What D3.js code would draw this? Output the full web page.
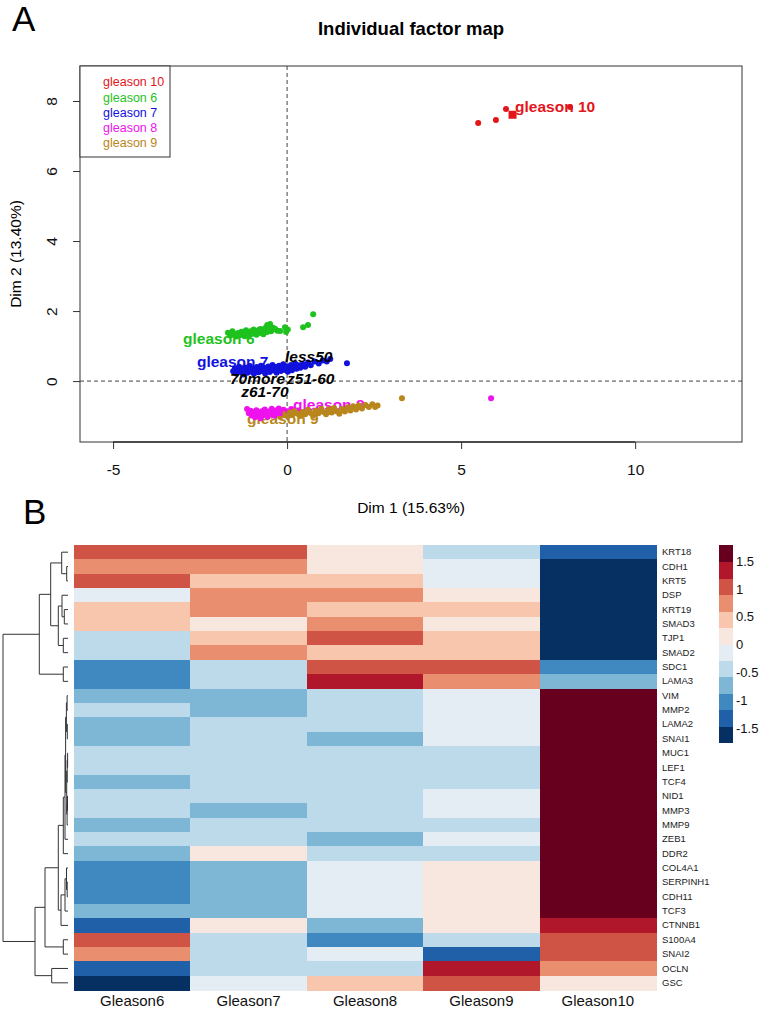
<!DOCTYPE html>
<html>
<head>
<meta charset="utf-8">
<script src="https://cdn.jsdelivr.net/npm/d3@7"></script>
<style>
  body { margin: 0; background: #fff; }
  svg text { font-family: "Liberation Sans", Arial, Helvetica, sans-serif; }
</style>
</head>
<body>
<div id="chart"></div>
<script>
// ---------- Panel A : individual factor map ----------
var groups = ["gleason 10", "gleason 6", "gleason 7", "gleason 8", "gleason 9"]
var groupColors = ["#e3151b", "#1ec21e", "#1212dd", "#ee12ee", "#b8861b"]

var ptsG10 = [[5.49, 7.37], [6.00, 7.46], [6.29, 7.77], [8.13, 7.83]]
var ptsG6 = [[-1.70, 1.38], [-1.63, 1.30], [-1.57, 1.42], [-1.51, 1.33], [-1.46, 1.27], [-1.41, 1.37],
  [-1.36, 1.31], [-1.31, 1.41], [-1.27, 1.34], [-1.22, 1.28], [-1.18, 1.45], [-1.13, 1.36],
  [-1.09, 1.30], [-1.05, 1.42], [-1.01, 1.35], [-0.96, 1.47], [-0.92, 1.39], [-0.88, 1.32],
  [-0.85, 1.44], [-0.80, 1.37], [-0.76, 1.49], [-0.72, 1.41], [-0.68, 1.34], [-0.65, 1.46],
  [-0.61, 1.53], [-0.57, 1.40], [-0.57, 1.60], [-0.52, 1.48], [-0.49, 1.63], [-0.46, 1.42],
  [-0.40, 1.52], [-0.34, 1.49], [-0.28, 1.44], [-0.20, 1.43], [-0.06, 1.54], [-0.03, 1.40],
  [0.02, 1.47], [0.46, 1.54], [0.60, 1.60], [0.75, 1.91]]
var ptsG7 = [[-1.55, 0.28], [-1.50, 0.37], [-1.46, 0.22], [-1.43, 0.31], [-1.38, 0.41], [-1.34, 0.26],
  [-1.31, 0.34], [-1.26, 0.19], [-1.22, 0.29], [-1.19, 0.39], [-1.14, 0.24], [-1.10, 0.33],
  [-1.07, 0.43], [-1.02, 0.27], [-0.98, 0.36], [-0.95, 0.21], [-0.90, 0.30], [-0.87, 0.40],
  [-0.82, 0.25], [-0.78, 0.34], [-0.75, 0.44], [-0.70, 0.28], [-0.66, 0.38], [-0.63, 0.22],
  [-0.58, 0.32], [-0.54, 0.42], [-0.50, 0.26], [-0.47, 0.36], [-0.42, 0.46], [-0.38, 0.30],
  [-0.35, 0.40], [-0.30, 0.24], [-0.26, 0.34], [-0.23, 0.44], [-0.18, 0.29], [-0.14, 0.38],
  [-0.11, 0.48], [-0.06, 0.32], [-0.02, 0.42], [0.02, 0.27], [0.06, 0.37], [0.11, 0.46],
  [0.14, 0.31], [0.19, 0.41], [0.23, 0.50], [0.27, 0.35], [0.33, 0.45], [0.38, 0.38],
  [0.45, 0.48], [0.52, 0.41], [0.60, 0.53], [0.68, 0.45], [0.79, 0.56], [0.91, 0.50],
  [1.02, 0.59], [1.14, 0.56], [1.24, 0.63], [1.72, 0.51]]
var ptsG8 = [[-1.15, -0.80], [-1.10, -0.92], [-1.05, -0.85], [-1.01, -0.98], [-0.96, -0.88],
  [-0.92, -1.03], [-0.88, -0.83], [-0.84, -0.95], [-0.80, -0.90], [-0.76, -1.06], [-0.72, -0.86],
  [-0.68, -0.97], [-0.64, -0.81], [-0.60, -0.93], [-0.56, -1.02], [-0.52, -0.87], [-0.48, -0.95],
  [-0.44, -0.79], [-0.40, -0.90], [-0.36, -0.99], [-0.32, -0.84], [-0.28, -0.93], [-0.24, -0.78],
  [-0.20, -0.88], [-0.15, -0.96], [-0.10, -0.82], [-0.05, -0.91], [0.00, -0.86], [0.06, -0.94],
  [0.12, -0.80], [0.20, -0.89], [0.30, -0.84], [1.29, -0.83], [5.86, -0.49]]
var ptsG9 = [[-0.20, -1.02], [-0.10, -0.95], [0.00, -1.00], [0.08, -0.90], [0.15, -0.97],
  [0.22, -0.86], [0.30, -0.93], [0.38, -1.00], [0.45, -0.88], [0.52, -0.95], [0.60, -0.82],
  [0.68, -0.91], [0.75, -0.98], [0.82, -0.85], [0.90, -0.92], [0.98, -0.79], [1.05, -0.88],
  [1.12, -0.95], [1.20, -0.83], [1.28, -0.90], [1.35, -0.77], [1.42, -0.86], [1.50, -0.93],
  [1.58, -0.80], [1.66, -0.87], [1.74, -0.75], [1.82, -0.84], [1.90, -0.72], [1.98, -0.81],
  [2.06, -0.70], [2.15, -0.78], [2.25, -0.68], [2.35, -0.74], [2.45, -0.66], [2.53, -0.74],
  [2.60, -0.70], [3.30, -0.49]]
var groupPoints = [ptsG10, ptsG6, ptsG7, ptsG8, ptsG9]

// where the category labels sit (left end of text, vertical centre)
var groupLabelPos = [[6.55, 7.83], [-2.99, 1.20], [-2.59, 0.57], [0.17, -0.66], [-1.15, -1.06]]
var supLabels = ["less50", "70more", "z51-60", "z61-70"]
var supLabelPos = [[-0.06, 0.69], [-1.64, 0.06], [0.0, 0.06], [-1.32, -0.31]]

var xTicksA = [-5, 0, 5, 10]
var yTicksA = [0, 2, 4, 6, 8]

// ---------- Panel B : heatmap ----------
var samples = ["Gleason6", "Gleason7", "Gleason8", "Gleason9", "Gleason10"]
var genes = ["KRT18", "CDH1", "KRT5", "DSP", "KRT19", "SMAD3", "TJP1", "SMAD2", "SDC1", "LAMA3",
  "VIM", "MMP2", "LAMA2", "SNAI1", "MUC1", "LEF1", "TCF4", "NID1", "MMP3", "MMP9", "ZEB1", "DDR2",
  "COL4A1", "SERPINH1", "CDH11", "TCF3", "CTNNB1", "S100A4", "SNAI2", "OCLN", "GSC"]

var valG6 = [0.98, 0.72, 0.95, -0.02, 0.35, 0.45, -0.35, -0.35, -0.95, -1.00,
  -0.60, -0.50, -0.65, -0.60, -0.45, -0.46, -0.60, -0.50, -0.48, -0.58, -0.45, -0.72,
  -0.90, -0.92, -0.88, -0.80, -1.30, 1.00, 0.70, -1.30, -1.70]
var valG7 = [0.95, 0.70, 0.40, 0.75, 0.65, 0.20, 0.40, 0.72, -0.30, -0.45,
  -0.60, -0.65, -0.50, -0.45, -0.44, -0.43, -0.40, -0.48, -0.60, -0.42, -0.45, 0.05,
  -0.60, -0.62, -0.64, -0.75, 0.15, -0.45, -0.40, -0.40, -0.15]
var valG8 = [0.05, 0.18, 0.38, 0.70, 0.38, 0.80, 1.00, 0.55, 1.10, 1.45,
  -0.40, -0.45, -0.45, -0.62, -0.45, -0.45, -0.38, -0.50, -0.45, -0.38, -0.60, -0.55,
  -0.25, -0.22, -0.24, -0.20, -0.60, -1.00, -0.10, -0.45, 0.45]
var valG9 = [-0.50, -0.05, -0.10, 0.20, 0.36, 0.25, 0.55, 0.58, 1.10, 0.70,
  -0.20, -0.15, -0.15, -0.10, -0.44, -0.44, -0.40, -0.25, -0.20, -0.35, -0.22, -0.50,
  0.05, 0.06, 0.06, 0.05, 0.30, -0.50, -1.30, 1.40, 1.10]
var valG10 = [-1.40, -1.55, -1.63, -1.63, -1.74, -1.70, -1.60, -1.50, -0.95, -0.70,
  1.75, 1.75, 1.75, 1.77, 1.78, 1.78, 1.78, 1.73, 1.73, 1.73, 1.72, 1.72,
  1.70, 1.70, 1.70, 1.70, 1.45, 0.95, 1.10, 0.75, 0.20]
var sampleValues = [valG6, valG7, valG8, valG9, valG10]

// low -> high
var heatColors = ["#053061", "#1f60a8", "#3f89c0", "#7eb6d6", "#bcdaea", "#e3edf3",
  "#f8e7df", "#f7c6ad", "#ea8e70", "#d05446", "#b0172a", "#67001f"]
var heatRange = [-1.75, 1.79]
var legendTicks = [1.5, 1, 0.5, 0, -0.5, -1, -1.5]

// row clustering: [left, right, height]; numbers point at an earlier merge
var merges = [
  ["MUC1", "LEF1", 0.4], ["NID1", "MMP3", 0.5], ["LAMA2", "SNAI1", 0.7], [0, "TCF4", 0.8],
  ["SERPINH1", "CDH11", 0.8], ["VIM", "MMP2", 0.9], [1, "MMP9", 0.9], [3, 6, 1.3],
  ["CDH1", "KRT5", 1.3], ["COL4A1", 4, 1.5], [5, 2, 1.6], [10, 7, 2.4],
  [11, "ZEB1", 3.0], [9, "TCF3", 3.0], ["KRT19", "SMAD3", 3.7], ["TJP1", "SMAD2", 4.7],
  ["SDC1", "LAMA3", 4.7], [12, "DDR2", 4.7], ["S100A4", "SNAI2", 4.7], ["DSP", 14, 6.0],
  ["KRT18", 8, 6.3], [13, "CTNNB1", 7.0], [19, 15, 9.7], [17, 21, 9.7],
  [20, 22, 17.3], ["OCLN", "GSC", 16.3], [23, 18, 23], [24, 16, 28.7],
  [26, 25, 33], [27, 28, 65]]

// plain hyphen minus, like R prints
function plain(d) { return String(d) }

var svg = d3.select("#chart").append("svg")
  .attr("width", 762)
  .attr("height", 1014)

// panel letters
svg.append("text").attr("x", 12).attr("y", 31).attr("font-size", 35).text("A")
svg.append("text").attr("x", 23).attr("y", 524).attr("font-size", 35).text("B")

// ======== Panel A ========
var xA = d3.scaleLinear().domain([-5.95, 13.07]).range([80, 742])
var yA = d3.scaleLinear().domain([-1.74, 9.0]).range([442, 66])

svg.append("text")
  .attr("x", 411).attr("y", 35)
  .attr("text-anchor", "middle")
  .attr("font-size", 18.5).attr("font-weight", "bold")
  .text("Individual factor map")

svg.append("line")
  .attr("x1", xA(0)).attr("x2", xA(0)).attr("y1", 66).attr("y2", 442)
  .attr("stroke", "#444").attr("stroke-dasharray", "4,3")
svg.append("line")
  .attr("x1", 80).attr("x2", 742).attr("y1", yA(0)).attr("y2", yA(0))
  .attr("stroke", "#444").attr("stroke-dasharray", "4,3")

// x axis
var xAxis = d3.axisBottom(xA).tickValues(xTicksA).tickSize(7).tickPadding(15).tickFormat(plain)
var gx = svg.append("g").attr("transform", "translate(0,442)").call(xAxis)
gx.select(".domain").remove()
gx.selectAll("line").attr("stroke", "#333")
gx.selectAll("text").attr("font-size", 15.5).attr("fill", "#111")
  .attr("font-family", "Liberation Sans, Arial, sans-serif")
gx.append("line")
  .attr("x1", xA(xTicksA[0])).attr("x2", xA(xTicksA[xTicksA.length - 1]))
  .attr("stroke", "#333").attr("stroke-width", 1.3)

// y axis, labels turned like R does
var yAxis = d3.axisLeft(yA).tickValues(yTicksA).tickSize(7).tickFormat(plain)
var gy = svg.append("g").attr("transform", "translate(80,0)").call(yAxis)
gy.select(".domain").remove()
gy.selectAll("line").attr("stroke", "#333")
gy.selectAll("text")
  .attr("x", 0).attr("y", -23).attr("dy", 0)
  .attr("text-anchor", "middle")
  .attr("transform", "rotate(-90)")
  .attr("font-size", 15.5).attr("fill", "#111")
  .attr("font-family", "Liberation Sans, Arial, sans-serif")

svg.append("rect")
  .attr("x", 80).attr("y", 66).attr("width", 662).attr("height", 376)
  .attr("fill", "none").attr("stroke", "#333")

svg.append("text")
  .attr("x", 411).attr("y", 513)
  .attr("text-anchor", "middle").attr("font-size", 15.5)
  .text("Dim 1 (15.63%)")
svg.append("text")
  .attr("transform", "translate(21,254) rotate(-90)")
  .attr("text-anchor", "middle").attr("font-size", 15.5)
  .text("Dim 2 (13.40%)")

// category labels go under the points
groups.forEach(function (g, i) {
  svg.append("text")
    .attr("x", xA(groupLabelPos[i][0])).attr("y", yA(groupLabelPos[i][1]))
    .attr("dy", "0.35em")
    .attr("font-size", 15.5).attr("font-weight", "bold")
    .attr("fill", groupColors[i])
    .text(g)
})

groupPoints.forEach(function (pts, i) {
  svg.append("g").selectAll("circle")
    .data(pts)
    .enter()
    .append("circle")
    .attr("cx", function (d) { return xA(d[0]) })
    .attr("cy", function (d) { return yA(d[1]) })
    .attr("r", 3)
    .attr("fill", groupColors[i])
})

// centroids
groupPoints.forEach(function (pts, i) {
  var cx = d3.mean(pts, function (d) { return d[0] })
  var cy = d3.mean(pts, function (d) { return d[1] })
  svg.append("rect")
    .attr("x", xA(cx) - 4).attr("y", yA(cy) - 4)
    .attr("width", 8).attr("height", 8)
    .attr("fill", groupColors[i])
})

supLabels.forEach(function (s, i) {
  svg.append("text")
    .attr("x", xA(supLabelPos[i][0])).attr("y", yA(supLabelPos[i][1]))
    .attr("dy", "0.35em")
    .attr("font-size", 15.5).attr("font-weight", "bold").attr("font-style", "italic")
    .attr("fill", "#000")
    .text(s)
})

// legend box
svg.append("rect")
  .attr("x", 80).attr("y", 66).attr("width", 90).attr("height", 91)
  .attr("fill", "#fff").attr("stroke", "#333")
groups.forEach(function (g, i) {
  svg.append("text")
    .attr("x", 103).attr("y", 82 + i * 15.2)
    .attr("dy", "0.35em")
    .attr("font-size", 12.5)
    .attr("fill", groupColors[i])
    .text(g)
})

// ======== Panel B ========
var xB = d3.scaleBand().domain(samples).range([74, 656])
var yB = d3.scaleBand().domain(genes).range([545, 990])
var color = d3.scaleQuantize().domain(heatRange).range(heatColors)

var cells = []
genes.forEach(function (g, r) {
  samples.forEach(function (s, c) {
    cells.push({ gene: g, sample: s, value: sampleValues[c][r] })
  })
})

svg.append("g").attr("shape-rendering", "crispEdges").selectAll("rect")
  .data(cells)
  .enter()
  .append("rect")
  .attr("x", function (d) { return xB(d.sample) })
  .attr("y", function (d) { return yB(d.gene) })
  .attr("width", xB.bandwidth() + 1)
  .attr("height", yB.bandwidth() + 1)
  .attr("fill", function (d) { return color(d.value) })

// column labels
var gcol = svg.append("g").attr("transform", "translate(0,990)")
  .call(d3.axisBottom(xB).tickSize(0).tickPadding(5))
gcol.select(".domain").remove()
gcol.selectAll("text").attr("font-size", 15).attr("fill", "#111")
  .attr("font-family", "Liberation Sans, Arial, sans-serif")

// row labels
var grow = svg.append("g").attr("transform", "translate(656,0)")
  .call(d3.axisRight(yB).tickSize(0).tickPadding(6))
grow.select(".domain").remove()
grow.selectAll("text").attr("font-size", 9.5).attr("fill", "#222")
  .attr("font-family", "Liberation Sans, Arial, sans-serif")

// dendrogram
var hx = d3.scaleLinear().domain([0, 65]).range([68, 3])
var nodes = []
function nodeOf(ref) {
  if (typeof ref === "string") return { x: hx(0), y: yB(ref) + yB.bandwidth() / 2 }
  return nodes[ref]
}
var dendro = svg.append("g").attr("fill", "none").attr("stroke", "#333").attr("stroke-width", 1)
merges.forEach(function (m) {
  var a = nodeOf(m[0]), b = nodeOf(m[1])
  var n = { x: hx(m[2]), y: (a.y + b.y) / 2 }
  nodes.push(n)
  var p = d3.path()
  p.moveTo(a.x, a.y)
  p.lineTo(n.x, a.y)
  p.lineTo(n.x, b.y)
  p.lineTo(b.x, b.y)
  dendro.append("path").attr("d", p.toString())
})

// colour key
var yKey = d3.scaleLinear().domain(heatRange).range([742, 545])
var keyBins = heatColors.map(function (c) { return color.invertExtent(c) })
svg.append("g").attr("shape-rendering", "crispEdges").selectAll("rect")
  .data(keyBins)
  .enter()
  .append("rect")
  .attr("x", 719)
  .attr("y", function (d) { return yKey(d[1]) })
  .attr("width", 14)
  .attr("height", function (d) { return yKey(d[0]) - yKey(d[1]) + 1 })
  .attr("fill", function (d) { return color((d[0] + d[1]) / 2) })

var gkey = svg.append("g").attr("transform", "translate(733,0)")
  .call(d3.axisRight(yKey).tickValues(legendTicks).tickSize(0).tickPadding(3).tickFormat(plain))
gkey.select(".domain").remove()
gkey.selectAll("text").attr("font-size", 13).attr("fill", "#111")
  .attr("font-family", "Liberation Sans, Arial, sans-serif")
</script>
</body>
</html>
